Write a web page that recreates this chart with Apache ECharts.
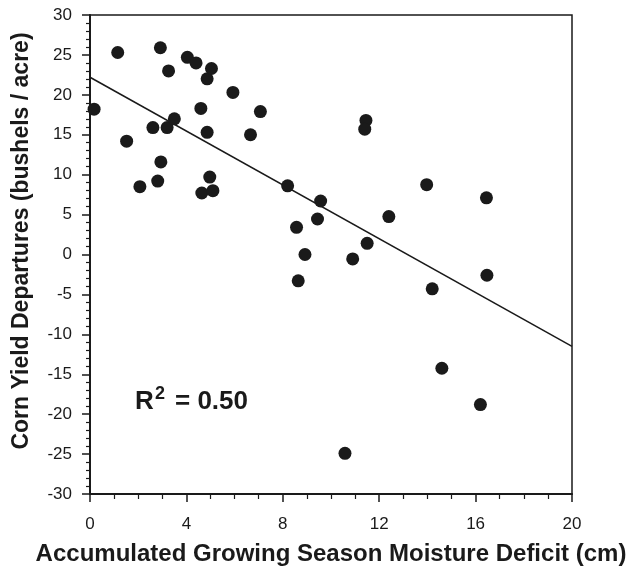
<!DOCTYPE html>
<html>
<head>
<meta charset="utf-8">
<script src="https://cdn.jsdelivr.net/npm/echarts@6/dist/echarts.min.js"></script>
<style>
  html, body { margin: 0; padding: 0; background: #fff; }
  #chart { width: 628px; height: 574px; }
</style>
</head>
<body>
<div id="chart"></div>
<script>
// moisture deficit (cm) for each season
const moistureDeficit = [
  0.17, 1.15, 1.52, 2.07, 2.61, 2.81, 2.92, 2.94, 3.2, 3.26, 3.5,
  4.04, 4.4, 4.6, 4.64, 4.86, 4.86, 4.97, 5.04, 5.1, 5.93, 6.66, 7.07,
  8.2, 8.57, 8.64, 8.92, 9.44, 9.57, 10.58, 10.9, 11.45, 11.4, 11.5,
  12.4, 13.97, 14.2, 14.6, 16.2, 16.45, 16.47
];
// corn yield departures (bushels / acre)
const yieldDeparture = [
  18.2, 25.3, 14.2, 8.5, 15.9, 9.2, 25.9, 11.6, 15.9, 23.0, 17.0,
  24.7, 24.0, 18.3, 7.7, 22.0, 15.3, 9.7, 23.3, 8.0, 20.3, 15.0, 17.9,
  8.6, 3.4, -3.3, 0.0, 4.45, 6.7, -24.9, -0.55, 16.8, 15.7, 1.4,
  4.75, 8.75, -4.3, -14.25, -18.8, 7.1, -2.6
];
// regression line end points
const fitX = [0, 20];
const fitY = [22.2, -11.5];

const xTicks = [0, 4, 8, 12, 16, 20];
const yTicks = [-30, -25, -20, -15, -10, -5, 0, 5, 10, 15, 20, 25, 30];

const font = 'Liberation Sans, Arial, sans-serif';
const ink = '#1a1a1a';

const chart = echarts.init(document.getElementById('chart'));

const option = {
  animation: false,
  grid: {
    left: 90, right: 56, top: 15, bottom: 80,
    outerBoundsMode: 'none',
    show: true, borderColor: ink, borderWidth: 1.5
  },
  xAxis: {
    type: 'value',
    min: xTicks[0], max: xTicks[xTicks.length - 1], interval: 4,
    name: 'Accumulated Growing Season Moisture Deficit (cm)',
    nameLocation: 'middle', nameGap: 48,
    nameTextStyle: { fontFamily: font, fontWeight: 'bold', fontSize: 24, color: ink },
    axisLine: { onZero: false, lineStyle: { color: ink, width: 2 } },
    axisTick: { show: true, length: 8, lineStyle: { color: ink, width: 1.5 } },
    minorTick: { show: true, splitNumber: 4, length: 5, lineStyle: { color: ink, width: 1.2 } },
    splitLine: { show: false },
    axisLabel: { fontFamily: font, fontSize: 17, color: ink, margin: 22 }
  },
  yAxis: {
    type: 'value',
    min: yTicks[0], max: yTicks[yTicks.length - 1], interval: 5,
    axisLine: { onZero: false, lineStyle: { color: ink, width: 2 } },
    axisTick: { show: true, length: 8, lineStyle: { color: ink, width: 1.5 } },
    minorTick: { show: true, splitNumber: 5, length: 4, lineStyle: { color: ink, width: 1.2 } },
    splitLine: { show: false },
    axisLabel: { fontFamily: font, fontSize: 17, color: ink, margin: 18 }
  },
  series: [
    {
      name: 'fit',
      type: 'line',
      data: fitX.map((x, i) => [x, fitY[i]]),
      showSymbol: false,
      lineStyle: { color: ink, width: 1.5 },
      z: 1
    },
    {
      name: 'seasons',
      type: 'scatter',
      data: moistureDeficit.map((x, i) => [x, yieldDeparture[i]]),
      symbol: 'circle',
      symbolSize: 13,
      itemStyle: { color: ink, opacity: 1 },
      z: 2
    }
  ],
  graphic: [
    // y axis title, set a bit above the axis centre like the original
    { type: 'text', x: 22, y: 241, rotation: Math.PI / 2,
      style: { text: 'Corn Yield Departures (bushels / acre)', font: 'bold 23px ' + font,
               fill: ink, align: 'center', verticalAlign: 'middle' } },
    { type: 'text', left: 135, top: 389,
      style: { text: 'R', font: 'bold 26px ' + font, fill: ink } },
    { type: 'text', left: 155, top: 385,
      style: { text: '2', font: 'bold 18px ' + font, fill: ink } },
    { type: 'text', left: 175, top: 389,
      style: { text: '= 0.50', font: 'bold 26px ' + font, fill: ink } }
  ]
};

chart.setOption(option);
</script>
</body>
</html>
